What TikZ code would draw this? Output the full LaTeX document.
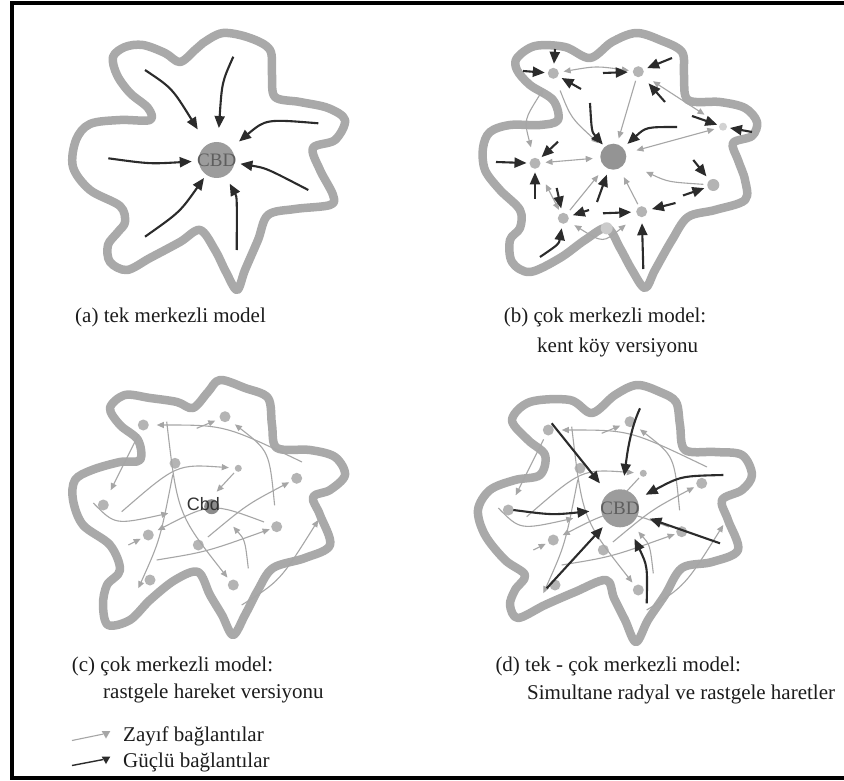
\documentclass[tikz,border=0pt]{standalone}
\usepackage{fontspec}
\setmainfont{Liberation Serif}
\newfontfamily\cbdsans{Liberation Sans}
\usetikzlibrary{arrows.meta,shapes.geometric}
\definecolor{bandgray}{HTML}{A9A9A9}
\definecolor{darkarr}{HTML}{2B2B2B}
\definecolor{lightarr}{HTML}{A6A6A6}
\definecolor{nodegray}{HTML}{B4B4B4}
\definecolor{cbdgray}{HTML}{9C9C9C}
\definecolor{cbdtext}{HTML}{5E5E5E}
\definecolor{txt}{HTML}{1C1C1C}
\newcommand\lightnet[1]{%
  \node[pdot] (#1n1) at (143.3,425) {};
  \node[pdot] (#1n2) at (225,416.7) {};
  \node[pdot] (#1n3) at (175,463.3) {};
  \node[pdot,minimum size=7pt] (#1n4) at (238.3,468.3) {};
  \node[pdot] (#1n5) at (296.7,478.3) {};
  \node[pdot] (#1n6) at (103.3,505) {};
  \node[pdot] (#1n7) at (148.3,535) {};
  \node[pdot] (#1n8) at (198.3,545) {};
  \node[pdot] (#1n9) at (276.7,526.7) {};
  \node[pdot] (#1n10) at (150,580) {};
  \node[pdot] (#1n11) at (233.3,585) {};
  \coordinate (#1s2) at (196.7,428.3);
  \coordinate (#1s4) at (302,462);
  \coordinate (#1s5) at (121.7,511.7);
  \coordinate (#1s6) at (93.3,503);
  \coordinate (#1e6) at (168.3,513.3);
  \coordinate (#1e7) at (216.7,491.7);
  \coordinate (#1s8) at (166.7,421.7);
  \coordinate (#1e9) at (138.3,588.3);
  \coordinate (#1s10) at (128.3,545);
  \coordinate (#1s13) at (156.7,560);
  \coordinate (#1s14) at (248.3,568.3);
  \coordinate (#1e14) at (233.3,526.7);
  \coordinate (#1s15) at (241.7,605);
  \coordinate (#1e15) at (318.3,520);
  \draw[weak,shorten <=5pt,shorten >=11pt] (#1n1) -- (#1n6);
  \draw[weak,shorten >=5pt] (#1s2) -- (#1n2);
  \draw[weak,shorten <=16pt,shorten >=7pt] (#1n9) .. controls (269.3,451) .. (#1n2);
  \draw[weak,shorten >=8pt] (#1s4) .. controls (225,425) .. (#1n1);
  \draw[weak,shorten >=6pt] (#1s5) .. controls (176.7,464) .. (#1n4);
  \draw[weak] (#1s6) .. controls (115,525) .. (#1e6);
  \draw[weak,shorten <=3pt] (#1n4) -- (#1e7);
  \draw[weak,shorten >=4pt] (#1s8) .. controls (177.5,514) .. (#1n11);
  \draw[weak,shorten <=6pt] (#1n3) .. controls (160,540) .. (#1e9);
  \draw[weak,shorten >=3pt] (#1s10) -- (#1n7);
  \draw[weak,shorten <=8pt,shorten >=5pt] (#1n9) .. controls (211.6,502.5) .. (#1n7);
  \draw[weak,shorten <=7pt,shorten >=3pt] (#1n8) .. controls (247,504.5) .. (#1n5);
  \draw[weak,shorten >=2pt] (#1s13) .. controls (206.6,551.8) .. (#1n9);
  \draw[weak] (#1s14) .. controls (245,540) .. (#1e14);
  \draw[weak] (#1s15) .. controls (280,581) .. (#1e15);
}
\begin{document}
\begin{tikzpicture}[x=1pt,y=-1pt,
  band/.style={draw=bandgray,line width=8.5pt,line join=round},
  strong/.style={draw=darkarr,line width=2.1pt,-{Triangle[length=12pt,width=10pt]}},
  weak/.style={draw=lightarr,line width=1.1pt,-{Triangle[length=7pt,width=6pt]}},
  weakb/.style={weak,{Triangle[length=7pt,width=6pt]}-{Triangle[length=7pt,width=6pt]}},
  pdot/.style={circle,fill=nodegray,minimum size=11pt,inner sep=0pt,outer sep=0pt},
  cbdnode/.style={circle,fill=cbdgray,inner sep=0pt,outer sep=0pt},
  captxt/.style={anchor=base west,inner sep=0pt,text=txt,font=\fontsize{21}{25}\selectfont},
  cbdlab/.style={inner sep=0pt,text=cbdtext,font=\fontsize{19}{19}\selectfont},
  ltri/.style={regular polygon,regular polygon sides=3,shape border rotate=180,inner sep=0pt,minimum size=10pt}
]
\fill[white] (0,0) rectangle (844,781);
\useasboundingbox (0,0) rectangle (844,781);
\draw[black,line width=4pt] (844,3) -- (12,3) -- (12,778) -- (844,778);

% ---------- (a) ----------
\draw[band] plot[smooth cycle,tension=0.55] coordinates {(223,33) (250,38) (270,50) (272,75) (275,97) (300,102) (328,108) (345,120) (335,140) (313,148) (320,170) (333,195) (330,205) (295,209) (268,215) (258,240) (245,270) (237,290) (226,272) (215,250) (200,230) (180,242) (150,258) (127,270) (110,262) (108,245) (118,232) (125,222) (120,206) (90,190) (73,167) (76,140) (90,124) (120,120) (150,120) (148,108) (130,93) (117,75) (113,57) (125,47) (143,45) (165,53) (180,62) (195,50) (203,43)};
\node[cbdnode,minimum size=36pt] (A) at (216.7,160) {};
\node[cbdlab] (At) at (216.7,160) {CBD};
\coordinate (a1) at (145,70);
\coordinate (a2) at (233.3,56.7);
\coordinate (a3) at (318.3,123.3);
\coordinate (a4) at (108.3,158.3);
\coordinate (a5) at (308.3,190);
\coordinate (a6) at (145,236.7);
\coordinate (a7) at (236.7,250);
\draw[strong,shorten >=18pt] (a1) .. controls (172,88) .. (A);
\draw[strong,shorten >=14pt] (a2) .. controls (222,82) .. (A);
\draw[strong,shorten >=11pt] (a3) .. controls (266,119) .. (A);
\draw[strong,shorten >=7pt] (a4) .. controls (150,164) .. (A);
\draw[strong,shorten >=6pt] (a5) .. controls (266,168) .. (A);
\draw[strong,shorten >=4pt] (a6) .. controls (180,212) .. (A);
\draw[strong,shorten >=9pt] (a7) .. controls (237,197) .. (A);
\node[captxt] (capa) at (75,322) {(a) tek merkezli model};

% ---------- (b) ----------
\draw[band] plot[smooth cycle,tension=0.55] coordinates {(517,58) (535,46) (565,47) (590,58) (612,42) (636,33) (660,40) (682,52) (684,75) (688,100) (720,102) (745,108) (757,122) (752,136) (733,143) (738,160) (745,180) (745,200) (715,210) (688,217) (672,240) (655,270) (645,288) (632,270) (620,248) (607,228) (585,240) (560,258) (530,272) (512,262) (510,240) (520,228) (520,210) (500,190) (485,170) (483,148) (490,132) (510,125) (540,125) (558,120) (553,100) (530,85) (517,70)};
\node[pdot] (b1) at (553.3,73.3) {};
\node[pdot] (b2) at (638.3,71.7) {};
\node[pdot,minimum size=8pt,fill=nodegray!60] (b3) at (723,126.7) {};
\node[cbdnode,minimum size=26pt,fill=cbdgray!95!black] (bc) at (613.3,156.7) {};
\node[pdot] (b5) at (535,163.3) {};
\node[pdot] (b6) at (563.3,218.3) {};
\node[pdot] (b7) at (641.7,211.7) {};
\node[pdot,minimum size=12pt] (b8) at (713.3,185) {};
\node[pdot,minimum size=12pt,fill=nodegray!70] (bx) at (606.7,228.3) {};
% weak links
\draw[weakb,shorten <=5pt,shorten >=4pt] (b1) .. controls (596,66) .. (b2);
\draw[weakb,shorten <=13pt,shorten >=11pt] (b1) .. controls (524,120) .. (b5);
\draw[weak,shorten <=13pt,shorten >=7pt] (b1) .. controls (571,118) .. (bc);
\draw[weak,shorten <=4pt,shorten >=6pt] (b2) -- (bc);
\draw[weakb,shorten <=12pt,shorten >=18pt] (b2) -- (b3);
\draw[weakb,shorten <=5pt,shorten >=11pt] (b3) -- (bc);
\draw[weak,shorten <=4pt,shorten >=23pt] (b8) .. controls (668,182) .. (bc);
\draw[weakb,shorten <=5pt,shorten >=7.6pt] (b5) -- (bc);
\draw[weakb,shorten <=18pt,shorten >=4pt] (b5) -- (b6);
\draw[weak,shorten <=5pt,shorten >=10.7pt] (b6) -- (bc);
\draw[weakb,shorten <=7.5pt,shorten >=15pt] (b6) .. controls (603,243) .. (b7);
\draw[weak,shorten <=3pt,shorten >=10pt] (b7) -- (bc);
% strong links
\coordinate (sb1) at (555,49);
\coordinate (sb2) at (523,71);
\coordinate (sb3) at (581,89);
\coordinate (sb4) at (603,73);
\coordinate (sb5) at (672,58);
\coordinate (sb6) at (665,102);
\coordinate (sb7) at (590,103);
\coordinate (sb8) at (677,127);
\coordinate (sb9) at (597,202);
\coordinate (sb10) at (692,116);
\coordinate (sb11) at (752,132);
\coordinate (sb12) at (496,162);
\coordinate (sb13) at (558,141.7);
\coordinate (sb14) at (535,199);
\coordinate (sb15) at (556.7,188);
\coordinate (sb16) at (589,210);
\coordinate (sb17) at (540,257);
\coordinate (sb18) at (603,213.3);
\coordinate (sb19) at (675.5,203);
\coordinate (sb20) at (643.3,269);
\coordinate (sb21) at (693.3,160);
\coordinate (sb22) at (683,195.5);
\draw[strong,shorten >=4pt] (sb1) -- (b1);
\draw[strong,shorten >=3pt] (sb2) -- (b1);
\draw[strong,shorten >=4pt] (sb3) -- (b1);
\draw[strong,shorten >=5pt] (sb4) -- (b2);
\draw[strong,shorten >=4pt] (sb5) -- (b2);
\draw[strong,shorten >=10pt] (sb6) -- (b2);
\draw[strong,shorten >=3pt] (sb7) .. controls (591.7,131.7) .. (bc);
\draw[strong,shorten >=6pt] (sb8) .. controls (646,127) .. (bc);
\draw[strong,shorten >=6pt] (sb9) -- (bc);
\draw[strong,shorten >=2pt] (sb10) -- (b3);
\draw[strong,shorten >=3pt] (sb11) -- (b3);
\draw[strong,shorten >=3pt] (sb12) -- (b5);
\draw[strong,shorten >=3.5pt] (sb13) -- (b5);
\draw[strong,shorten >=3.5pt] (sb14) -- (b5);
\draw[strong,shorten >=4.5pt] (sb15) -- (b6);
\draw[strong,shorten >=4.5pt] (sb16) -- (b6);
\draw[strong,shorten >=4.5pt] (sb17) .. controls (559,244) .. (b6);
\draw[strong,shorten >=5pt] (sb18) -- (b7);
\draw[strong,shorten >=5pt] (sb19) -- (b7);
\draw[strong,shorten >=6pt] (sb20) -- (b7);
\draw[strong,shorten >=5pt] (sb21) -- (b8);
\draw[strong,shorten >=3.5pt] (sb22) -- (b8);
\node[captxt] (capb1) at (503.7,322) {(b) çok merkezli model:};
\node[captxt] (capb2) at (537,352) {kent köy versiyonu};

% ---------- (c) ----------
\draw[band] plot[smooth cycle,tension=0.55] coordinates {(110,408) (125,395) (150,398) (177,402) (193,408) (208,392) (220,380) (245,388) (268,398) (272,425) (277,448) (310,450) (335,457) (345,475) (330,490) (313,497) (320,515) (330,545) (305,558) (273,568) (258,590) (245,615) (233,635) (222,615) (210,595) (198,572) (175,580) (150,600) (130,620) (108,625) (103,605) (107,585) (120,570) (110,545) (83,525) (73,500) (75,480) (92,470) (120,462) (140,460) (138,440) (120,425)};
\lightnet{c}
\node[cbdnode,minimum size=15pt,fill=cbdgray!90!black] (cC) at (211.7,506.7) {};
\node[inner sep=0pt,text=black!80,font=\cbdsans\fontsize{18}{18}\selectfont] (cCt) at (203.3,504) {Cbd};
\node[captxt] (capc1) at (71.7,671) {(c) çok merkezli model:};
\node[captxt] (capc2) at (103,698) {rastgele hareket versiyonu};

% ---------- (d) ----------
\draw[band] plot[smooth cycle,tension=0.55] coordinates {(512,420) (530,402) (570,400) (592,413) (615,395) (637,385) (660,392) (676,402) (680,425) (685,450) (715,452) (742,455) (752,475) (742,490) (722,500) (728,520) (738,550) (712,562) (682,568) (665,595) (648,620) (636,642) (625,620) (614,598) (606,580) (575,592) (545,605) (518,618) (510,605) (515,590) (525,575) (505,560) (485,535) (478,510) (490,490) (515,480) (540,475) (545,455) (528,440)};
\begin{scope}[shift={(405,5)}]
\lightnet{d}
\end{scope}
\node[cbdnode,minimum size=38pt] (D) at (620,508.3) {};
\node[cbdlab] (Dt) at (620,508.3) {CBD};
\coordinate (sd1) at (551.7,423.3);
\coordinate (sd2) at (640,408.3);
\coordinate (sd3) at (723.3,475);
\coordinate (sd4) at (513.3,510);
\coordinate (sd5) at (720,543.3);
\coordinate (sd6) at (546.7,588.3);
\coordinate (sd7) at (646.7,603.3);
\draw[strong,shorten >=13pt] (sd1) -- (D);
\draw[strong,shorten >=13.7pt] (sd2) .. controls (630,430) and (627,455) .. (D);
\draw[strong,shorten >=10pt] (sd3) .. controls (681,476) .. (D);
\draw[strong,shorten >=11.7pt] (sd4) .. controls (552,515) .. (D);
\draw[strong,shorten >=12.3pt] (sd5) -- (D);
\draw[strong,shorten >=6.5pt] (sd6) -- (D);
\draw[strong,shorten >=14.8pt] (sd7) .. controls (647.5,566) .. (D);
\node[captxt] (capd1) at (495.3,671.5) {(d) tek - çok merkezli model:};
\node[captxt] (capd2) at (527,699) {Simultane radyal ve rastgele haretler};

% ---------- legend ----------
\node[ltri,fill=lightarr] (lgw) at (106,733.5) {};
\node[ltri,fill=darkarr] (lgs) at (106,759) {};
\coordinate (lgws) at (72,740.5);
\coordinate (lgss) at (72,765.5);
\draw[draw=lightarr,line width=1.1pt] (lgws) -- (lgw);
\draw[draw=darkarr,line width=1.4pt] (lgss) -- (lgs);
\node[captxt] (lgwt) at (123,741) {Zayıf bağlantılar};
\node[captxt] (lgst) at (123,767) {Güçlü bağlantılar};
\end{tikzpicture}
\end{document}
